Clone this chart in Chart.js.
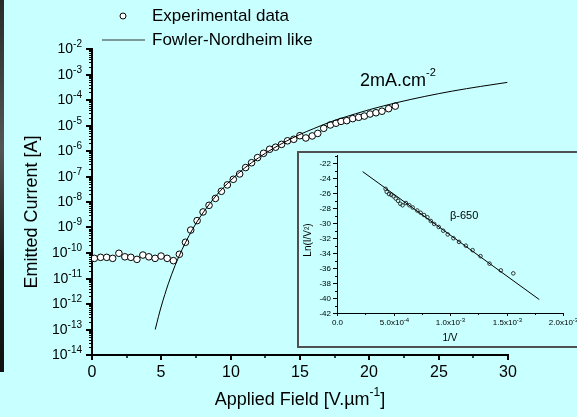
<!DOCTYPE html>
<html>
<head>
<meta charset="utf-8">
<script src="https://cdn.jsdelivr.net/npm/chart.js@4.4.1/dist/chart.umd.min.js"></script>
<style>
  html, body { margin:0; padding:0; width:577px; height:417px; overflow:hidden; background:rgb(200,255,255); }
  #strip { position:absolute; left:0; top:0; width:4px; height:372px; background:linear-gradient(180deg,#2a2a2a,#555 40%,#1c1c1c 70%,#111); }
  #main { position:absolute; left:0; top:0; }
  #box { position:absolute; left:297px; top:151px; width:400px; height:193px; border:2px solid #505050; box-sizing:content-box; }
  #inset { position:absolute; left:297px; top:151px; }
</style>
</head>
<body>
<div id="strip"></div>
<canvas id="main" width="577" height="417"></canvas>
<div id="box"></div>
<canvas id="inset" width="300" height="196"></canvas>
<script>
// ---------- data: main chart ----------
const expField = [0.17,0.62,1.06,1.49,1.94,2.37,2.80,3.24,3.67,4.10,4.55,4.98,5.42,5.87,6.30,6.74,7.12,7.58,8.01,8.44,8.90,9.33,9.76,10.19,10.65,11.08,11.51,11.94,12.37,12.81,13.24,13.67,14.10,14.55,14.99,15.42,15.88,16.28,16.71,17.19,17.60,17.96,18.37,18.80,19.23,19.64,20.05,20.48,20.91,21.39,21.87];
const expCurrent = [6.17e-11,6.76e-11,6.76e-11,6.17e-11,9.77e-11,7.08e-11,6.76e-11,5.62e-11,8.32e-11,7.08e-11,6.17e-11,7.59e-11,6.17e-11,5.01e-11,8.91e-11,2.63e-10,7.94e-10,1.86e-9,4.07e-9,7.41e-9,1.38e-8,2.63e-8,4.68e-8,7.76e-8,1.26e-7,2.24e-7,3.47e-7,5.50e-7,8.13e-7,1.17e-6,1.41e-6,1.82e-6,2.51e-6,2.88e-6,3.98e-6,3.24e-6,3.89e-6,4.90e-6,7.76e-6,1.05e-5,1.23e-5,1.45e-5,1.55e-5,1.86e-5,2.09e-5,2.34e-5,2.82e-5,3.16e-5,3.63e-5,4.57e-5,5.75e-5];
const fnField = [4.56,4.8,5,5.25,5.5,6,6.5,7,7.5,8,9,10,11,12,13,14,15,16,17,18,19,20,22,24,26,28,29.95];
const fnCurrent = [1.0e-13,3.31e-13,8.32e-13,2.34e-12,6.17e-12,3.31e-11,1.38e-10,4.79e-10,1.45e-9,3.72e-9,1.91e-8,7.08e-8,2.14e-7,5.37e-7,1.20e-6,2.40e-6,4.47e-6,7.59e-6,1.26e-5,1.95e-5,2.88e-5,4.17e-5,7.94e-5,1.38e-4,2.24e-4,3.39e-4,4.90e-4];
const xTicks = [0,5,10,15,20,25,30];
const yTickExps = [-2,-3,-4,-5,-6,-7,-8,-9,-10,-11,-12,-13,-14];

// ---------- data: inset ----------
const insInvV = [4.3e-4,4.4e-4,4.6e-4,4.8e-4,5.0e-4,5.2e-4,5.4e-4,5.6e-4,5.8e-4,6.1e-4,6.4e-4,6.7e-4,7.1e-4,7.4e-4,7.7e-4,8.0e-4,8.3e-4,8.6e-4,9.0e-4,9.4e-4,9.8e-4,1.03e-3,1.08e-3,1.14e-3,1.20e-3,1.27e-3,1.35e-3,1.45e-3,1.56e-3];
const insLn = [-25.4,-25.8,-26.1,-26.2,-26.4,-26.7,-27.0,-27.4,-27.6,-27.3,-27.6,-27.9,-28.3,-28.6,-28.9,-29.2,-29.7,-30.1,-30.5,-31.0,-31.5,-32.0,-32.5,-33.0,-33.6,-34.4,-35.4,-36.3,-36.7];
const fitInvV = [2.27e-4,1.79e-3];
const fitLn = [-23.1,-40.2];
const insXTicks = [0,5e-4,1e-3,1.5e-3,2e-3];
const insXLabels = [['0.0',''],['5.0x10','-4'],['1.0x10','-3'],['1.5x10','-3'],['2.0x10','-3']];
const insYTicks = [-22,-24,-26,-28,-30,-32,-34,-36,-38,-40,-42];

const FF = "'Liberation Sans', Arial, sans-serif";

function supText(ctx, x, y, base, sup, size, supSize, rise, align) {
  ctx.font = size + 'px ' + FF;
  const wb = ctx.measureText(base).width;
  ctx.font = supSize + 'px ' + FF;
  const ws = sup ? ctx.measureText(sup).width : 0;
  const total = wb + ws;
  let x0 = x;
  if (align === 'right') x0 = x - total;
  else if (align === 'center') x0 = x - total / 2;
  ctx.textAlign = 'left';
  ctx.textBaseline = 'middle';
  ctx.font = size + 'px ' + FF;
  ctx.fillText(base, x0, y);
  if (sup) {
    ctx.font = supSize + 'px ' + FF;
    ctx.fillText(sup, x0 + wb, y - rise);
  }
  return x0 + total;
}
function seg(ctx, x1, y1, x2, y2) { ctx.beginPath(); ctx.moveTo(x1, y1); ctx.lineTo(x2, y2); ctx.stroke(); }

const mainDecor = {
  id: 'mainDecor',
  afterDraw(chart) {
    const { ctx, chartArea: a } = chart;
    const x = chart.scales.x, y = chart.scales.y;
    ctx.save();
    ctx.fillStyle = '#000';
    ctx.strokeStyle = '#000';
    // y ticks
    for (const e of yTickExps) {
      const py = Math.round(y.getPixelForValue(Math.pow(10, e)));
      ctx.lineWidth = 2;
      seg(ctx, a.left - 6, py, a.left, py);
      ctx.lineWidth = 1;
      if (e > -14) {
        for (let m = 2; m <= 9; m++) {
          const pm = Math.round(y.getPixelForValue(m * Math.pow(10, e - 1))) + 0.5;
          seg(ctx, a.left - 3, pm, a.left, pm);
        }
      }
      supText(ctx, a.left - 10, py, '10', String(e), 14, 10, 5, 'right');
    }
    // x ticks
    for (let i = 0; i < xTicks.length; i++) {
      const px = Math.round(x.getPixelForValue(xTicks[i]));
      ctx.lineWidth = 2;
      seg(ctx, px, a.bottom, px, a.bottom + 5);
      ctx.lineWidth = 1.5;
      if (i < xTicks.length - 1) {
        const pm = Math.round(x.getPixelForValue((xTicks[i] + xTicks[i + 1]) / 2));
        seg(ctx, pm, a.bottom, pm, a.bottom + 3);
      }
      ctx.font = '16px ' + FF; ctx.textAlign = 'center'; ctx.textBaseline = 'middle';
      ctx.fillText(String(xTicks[i]), px, a.bottom + 18);
    }
    // x title
    ctx.font = '18px ' + FF;
    const w1 = ctx.measureText('Applied Field [V.µm').width;
    ctx.font = '12px ' + FF;
    const w2 = ctx.measureText('-1').width;
    ctx.font = '18px ' + FF;
    const w3 = ctx.measureText(']').width;
    let tx = (a.left + a.right) / 2 - (w1 + w2 + w3) / 2;
    tx = supText(ctx, tx, 400, 'Applied Field [V.µm', '-1', 18, 12, 7, 'left');
    ctx.font = '18px ' + FF; ctx.textAlign = 'left';
    ctx.fillText(']', tx, 400);
    // y title
    ctx.save();
    ctx.translate(32, (a.top + a.bottom) / 2 + 10);
    ctx.rotate(-Math.PI / 2);
    ctx.font = '18px ' + FF; ctx.textAlign = 'center'; ctx.textBaseline = 'middle';
    ctx.fillText('Emitted Current [A]', 0, 0);
    ctx.restore();
    // legend
    ctx.beginPath(); ctx.arc(123, 16, 3, 0, Math.PI * 2);
    ctx.fillStyle = '#fff'; ctx.fill(); ctx.strokeStyle = '#000'; ctx.lineWidth = 1; ctx.stroke();
    ctx.fillStyle = '#000';
    ctx.font = '17px ' + FF; ctx.textAlign = 'left'; ctx.textBaseline = 'middle';
    ctx.fillText('Experimental data', 152, 16);
    ctx.strokeStyle = '#333'; ctx.lineWidth = 1.2;
    seg(ctx, 102, 40, 145, 40);
    ctx.fillText('Fowler-Nordheim like', 152, 40);
    // annotation
    supText(ctx, 360, 81, '2mA.cm', '-2', 18, 11, 8, 'left');
    ctx.restore();
  }
};

new Chart(document.getElementById('main'), {
  type: 'scatter',
  data: {
    datasets: [
      {
        label: 'Fowler-Nordheim like',
        data: fnField.map((v, i) => ({ x: v, y: fnCurrent[i] })),
        showLine: true, pointRadius: 0, borderColor: '#000', borderWidth: 1,
        cubicInterpolationMode: 'monotone', order: 0
      },
      {
        label: 'Experimental data',
        data: expField.map((v, i) => ({ x: v, y: expCurrent[i] })),
        showLine: false, pointRadius: 3.3, pointBorderWidth: 1,
        pointBackgroundColor: '#fff', pointBorderColor: '#000', order: 1
      }
    ]
  },
  options: {
    responsive: false, animation: false,
    layout: { padding: { top: 49, right: 69, left: 0, bottom: 0 } },
    plugins: { legend: { display: false }, tooltip: { enabled: false } },
    scales: {
      x: {
        type: 'linear', min: 0, max: 30,
        grid: { display: false }, border: { display: true, color: '#000', width: 2 },
        ticks: { display: false },
        afterFit(s) { s.height = 62; }
      },
      y: {
        type: 'logarithmic', min: 1e-14, max: 1e-2,
        grid: { display: false }, border: { display: true, color: '#000', width: 2 },
        ticks: { display: false },
        afterFit(s) { s.width = 92; }
      }
    }
  },
  plugins: [mainDecor]
});

const insetDecor = {
  id: 'insetDecor',
  afterDraw(chart) {
    const { ctx, chartArea: a } = chart;
    const x = chart.scales.x, y = chart.scales.y;
    ctx.save();
    ctx.fillStyle = '#000'; ctx.strokeStyle = '#000'; ctx.lineWidth = 1;
    for (const t of insYTicks) {
      const py = Math.round(y.getPixelForValue(t)) + 0.5;
      seg(ctx, a.left - 4, py, a.left, py);
      const pm = Math.round(y.getPixelForValue(t + 1)) + 0.5;
      seg(ctx, a.left - 2, pm, a.left, pm);
      ctx.font = '8px ' + FF; ctx.textAlign = 'right'; ctx.textBaseline = 'middle';
      ctx.fillText(String(t), a.left - 6, py);
    }
    for (let i = 0; i < insXTicks.length; i++) {
      const px = Math.round(x.getPixelForValue(insXTicks[i])) + 0.5;
      seg(ctx, px, a.bottom, px, a.bottom + 3);
      if (i < insXTicks.length - 1) {
        const pm = Math.round(x.getPixelForValue((insXTicks[i] + insXTicks[i + 1]) / 2)) + 0.5;
        seg(ctx, pm, a.bottom, pm, a.bottom + 2);
      }
      supText(ctx, px, a.bottom + 10, insXLabels[i][0], insXLabels[i][1], 8, 6, 3, 'center');
    }
    ctx.font = '10px ' + FF; ctx.textAlign = 'center'; ctx.textBaseline = 'middle';
    ctx.fillText('1/V', 153, 187);
    ctx.save();
    ctx.translate(11, 89); ctx.rotate(-Math.PI / 2);
    ctx.fillText('Ln(I/V²)', 0, 0);
    ctx.restore();
    ctx.font = '11px ' + FF; ctx.textAlign = 'left';
    ctx.fillText('β-650', 153, 65);
    ctx.restore();
  }
};

new Chart(document.getElementById('inset'), {
  type: 'scatter',
  data: {
    datasets: [
      {
        data: fitInvV.map((v, i) => ({ x: v, y: fitLn[i] })),
        showLine: true, pointRadius: 0, borderColor: '#000', borderWidth: 1, order: 0
      },
      {
        data: insInvV.map((v, i) => ({ x: v, y: insLn[i] })),
        showLine: false, pointRadius: 1.8, pointBorderWidth: 0.9,
        pointBackgroundColor: 'rgba(0,0,0,0)', pointBorderColor: '#222', order: 1
      }
    ]
  },
  options: {
    responsive: false, animation: false,
    layout: { padding: { top: 4, right: 34, left: 0, bottom: 0 } },
    plugins: { legend: { display: false }, tooltip: { enabled: false } },
    scales: {
      x: {
        type: 'linear', min: 0, max: 0.002,
        grid: { display: false }, border: { display: true, color: '#000', width: 1 },
        ticks: { display: false },
        afterFit(s) { s.height = 34; }
      },
      y: {
        type: 'linear', min: -42, max: -21,
        grid: { display: false }, border: { display: true, color: '#000', width: 1 },
        ticks: { display: false },
        afterFit(s) { s.width = 40; }
      }
    }
  },
  plugins: [insetDecor]
});
</script>
</body>
</html>
